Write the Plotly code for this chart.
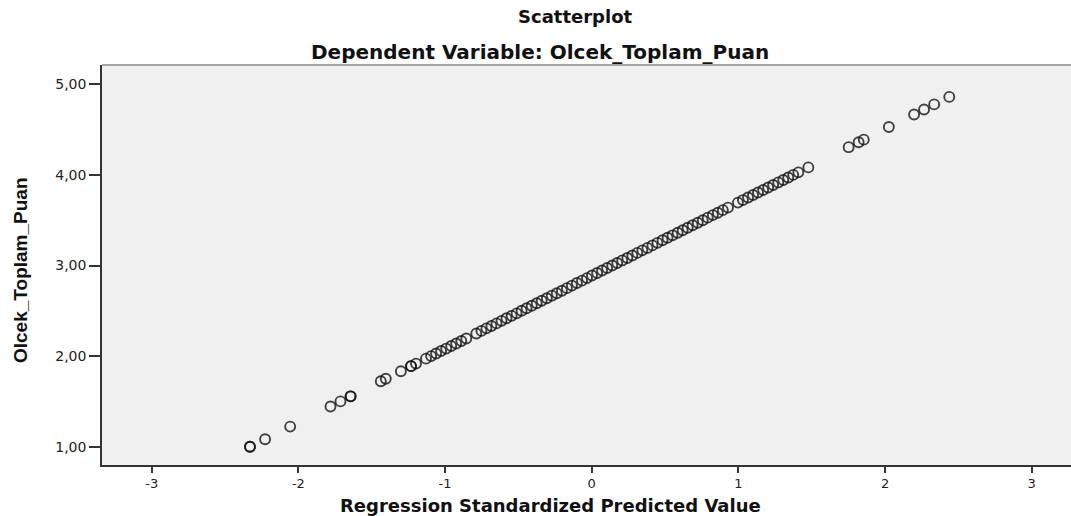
import plotly.graph_objects as go

# Regression standardized predicted value (x) and Olcek_Toplam_Puan (y)
pred_std = [
    -2.330, -2.330, -2.227, -2.056, -1.781, -1.713, -1.644, -1.644, -1.438, -1.404,
    -1.301, -1.232, -1.232, -1.198, -1.130, -1.095, -1.061, -1.027, -0.992, -0.958,
    -0.924, -0.889, -0.855, -0.787, -0.752, -0.718, -0.684, -0.649, -0.615, -0.581,
    -0.546, -0.512, -0.478, -0.444, -0.409, -0.375, -0.341, -0.306, -0.272, -0.238,
    -0.203, -0.169, -0.135, -0.101, -0.066, -0.032, 0.002, 0.037, 0.071, 0.105,
    0.140, 0.174, 0.208, 0.243, 0.277, 0.311, 0.345, 0.380, 0.414, 0.448,
    0.483, 0.517, 0.551, 0.586, 0.620, 0.654, 0.688, 0.723, 0.757, 0.791,
    0.826, 0.860, 0.894, 0.929, 0.997, 1.031, 1.066, 1.100, 1.134, 1.169,
    1.203, 1.237, 1.272, 1.306, 1.340, 1.374, 1.409, 1.477, 1.752, 1.820,
    1.855, 2.026, 2.198, 2.266, 2.335, 2.438,
]
toplam_puan = [
    1.000, 1.000, 1.083, 1.222, 1.444, 1.500, 1.556, 1.556, 1.722, 1.750,
    1.833, 1.889, 1.889, 1.917, 1.972, 2.000, 2.028, 2.056, 2.083, 2.111,
    2.139, 2.167, 2.194, 2.250, 2.278, 2.306, 2.333, 2.361, 2.389, 2.417,
    2.444, 2.472, 2.500, 2.528, 2.556, 2.583, 2.611, 2.639, 2.667, 2.694,
    2.722, 2.750, 2.778, 2.806, 2.833, 2.861, 2.889, 2.917, 2.944, 2.972,
    3.000, 3.028, 3.056, 3.083, 3.111, 3.139, 3.167, 3.194, 3.222, 3.250,
    3.278, 3.306, 3.333, 3.361, 3.389, 3.417, 3.444, 3.472, 3.500, 3.528,
    3.556, 3.583, 3.611, 3.639, 3.694, 3.722, 3.750, 3.778, 3.806, 3.833,
    3.861, 3.889, 3.917, 3.944, 3.972, 4.000, 4.028, 4.083, 4.306, 4.361,
    4.389, 4.528, 4.667, 4.722, 4.778, 4.861,
]

x_ticks = [-3, -2, -1, 0, 1, 2, 3]
x_tick_labels = ["-3", "-2", "-1", "0", "1", "2", "3"]
y_ticks = [1, 2, 3, 4, 5]
y_tick_labels = ["1,00", "2,00", "3,00", "4,00", "5,00"]

title_main = "Scatterplot"
title_sub = "Dependent Variable: Olcek_Toplam_Puan"
x_title = "Regression Standardized Predicted Value"
y_title = "Olcek_Toplam_Puan"

W, H = 1071, 516
ML, MR, MT, MB = 102, 0, 65, 51
PW, PH = W - ML - MR, H - MT - MB

fig = go.Figure()
fig.add_trace(go.Scatter(
    x=pred_std, y=toplam_puan, mode="markers",
    marker=dict(symbol="circle-open", size=10,
                color="rgba(15,15,15,0.78)",
                line=dict(width=1.9, color="rgba(15,15,15,0.78)")),
    showlegend=False, hoverinfo="x+y",
))

font_main = "DejaVu Sans, Liberation Sans, Arial, sans-serif"

fig.update_layout(
    width=W, height=H, autosize=False,
    margin=dict(l=ML, r=MR, t=MT, b=MB, pad=0),
    paper_bgcolor="white", plot_bgcolor="#F0F0F0",
    font=dict(family=font_main, color="#111111"),
    xaxis=dict(
        range=[-3.339, 3.268], tickvals=x_ticks, ticktext=x_tick_labels,
        showgrid=False, zeroline=False, showline=True, linecolor="#333333", linewidth=1.6,
        ticks="outside", ticklen=6, tickwidth=2, tickcolor="#333333",
        tickfont=dict(size=13, color="#222222"),
    ),
    yaxis=dict(
        range=[0.798, 5.213], tickvals=y_ticks, ticktext=y_tick_labels,
        showgrid=False, zeroline=False, showline=True, linecolor="#333333", linewidth=1.6,
        ticks="outside", ticklen=11, tickwidth=1.5, tickcolor="#333333",
        tickfont=dict(size=14, color="#222222"),
    ),
    shapes=[dict(type="line", xref="paper", yref="paper", x0=0, x1=1, y0=1, y1=1,
                 line=dict(color="#8a8a8a", width=1.5))],
    annotations=[
        dict(text="<b>" + title_main + "</b>", xref="paper", yref="paper",
             x=(575 - ML) / PW, y=1 + (MT - 17) / PH,
             xanchor="center", yanchor="middle", showarrow=False,
             font=dict(size=18, family=font_main, color="#111111")),
        dict(text="<b>" + title_sub + "</b>", xref="paper", yref="paper",
             x=(540 - ML) / PW, y=1 + (MT - 52) / PH,
             xanchor="center", yanchor="middle", showarrow=False,
             font=dict(size=20, family=font_main, color="#111111")),
        dict(text="<b>" + x_title + "</b>", xref="paper", yref="paper",
             x=(550 - ML) / PW, y=-(505 - (H - MB)) / PH,
             xanchor="center", yanchor="middle", showarrow=False,
             font=dict(size=18, family=font_main, color="#111111")),
        dict(text="<b>" + y_title + "</b>", xref="paper", yref="paper",
             x=(20 - ML) / PW, y=(H - MB - 270) / PH,
             xanchor="center", yanchor="middle", showarrow=False, textangle=-90,
             font=dict(size=19, family="Liberation Sans Narrow, Liberation Sans, Arial, sans-serif",
                       color="#111111")),
    ],
)

fig.write_html("out.html", config={"displayModeBar": False},
               post_script="document.body.style.margin='0';document.body.style.padding='0';")
